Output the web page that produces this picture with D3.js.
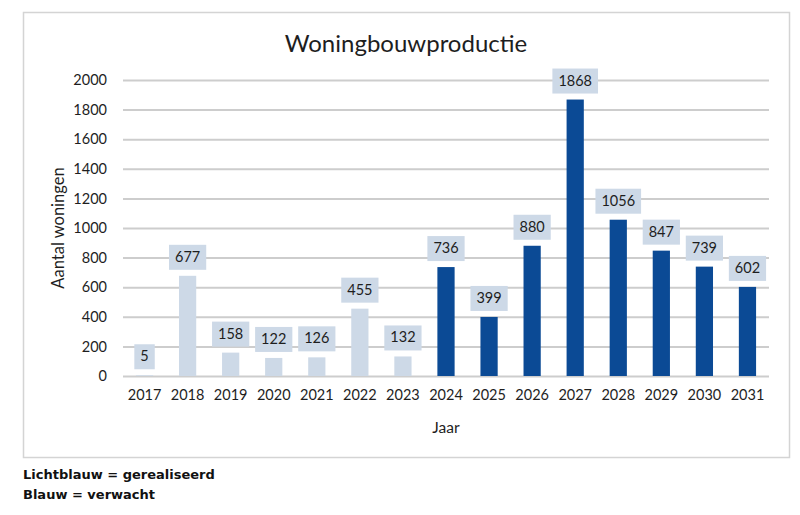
<!DOCTYPE html>
<html><head><meta charset="utf-8">
<script src="https://cdn.jsdelivr.net/npm/d3@7"></script>
<style>body{margin:0;background:#fff}</style>
</head><body>
<svg id="c" width="800" height="515"></svg>
<script>
const years = ["2017","2018","2019","2020","2021","2022","2023","2024","2025","2026","2027","2028","2029","2030","2031"];
const values = [5,677,158,122,126,455,132,736,399,880,1868,1056,847,739,602];
const realised = [true,true,true,true,true,true,true,false,false,false,false,false,false,false,false];
const yTicks = [0,200,400,600,800,1000,1200,1400,1600,1800,2000];
const legendLines = ["Lichtblauw = gerealiseerd","Blauw = verwacht"];

const light = "#cdd9e7", dark = "#0b4a95", txt = "#1e1e1e";
const font = "Lato, 'Open Sans', sans-serif";
const svg = d3.select("#c");
svg.append("rect").attr("x",23.5).attr("y",12.5).attr("width",766).attr("height",445)
  .attr("fill","#fff").attr("stroke","#d4d4d4").attr("stroke-width",1.5);

const x = d3.scaleBand().domain(years).range([123,769]).paddingInner(0.6).paddingOuter(0.3);
const y = d3.scaleLinear().domain([0,2000]).range([376,80]);

svg.append("text").attr("x",406).attr("y",52).attr("text-anchor","middle")
  .attr("font-family",font).attr("font-size",24).attr("fill",txt).text("Woningbouwproductie");

const ya = svg.append("g").attr("transform","translate(123,0)")
  .call(d3.axisLeft(y).tickValues(yTicks).tickFormat(d3.format("d")).tickSize(-646).tickPadding(16));
ya.select(".domain").remove();
ya.selectAll("line").attr("stroke","#cdcdcd").attr("stroke-width",2);
ya.selectAll("text").attr("font-family",font).attr("font-size",14.5).attr("fill",txt);

const xa = svg.append("g").attr("transform","translate(0,376)")
  .call(d3.axisBottom(x).tickSize(0).tickPadding(14));
xa.select(".domain").remove();
xa.selectAll("text").attr("font-family",font).attr("font-size",14.5).attr("fill",txt);

svg.append("g").selectAll("rect").data(years).join("rect")
  .attr("x",d=>x(d)).attr("width",x.bandwidth())
  .attr("y",(d,i)=>y(values[i])).attr("height",(d,i)=>y(0)-y(values[i]))
  .attr("fill",(d,i)=>realised[i]?light:dark);

const lab = svg.append("g").selectAll("g").data(years).join("g");
lab.each(function(d,i){
  const g = d3.select(this);
  const cx = x(d)+x.bandwidth()/2, bottom = y(values[i]) - 6;
  const t = g.append("text").attr("x",cx).attr("y",bottom-8).attr("text-anchor","middle")
    .attr("font-family",font).attr("font-size",14.5).attr("fill",txt).text(values[i]);
  const w = t.node().getComputedTextLength()+12;
  g.insert("rect","text").attr("x",cx-w/2).attr("y",bottom-25).attr("width",w).attr("height",25).attr("fill",light);
});

svg.append("text").attr("transform","translate(64,228) rotate(-90)").attr("text-anchor","middle")
  .attr("font-family",font).attr("font-size",16.5).attr("fill",txt).text("Aantal woningen");
svg.append("text").attr("x",446).attr("y",433).attr("text-anchor","middle")
  .attr("font-family",font).attr("font-size",15.5).attr("fill",txt).text("Jaar");

svg.append("g").selectAll("text").data(legendLines).join("text")
  .attr("x",23).attr("y",(d,i)=>479+i*20).attr("font-family","'DejaVu Sans', Verdana, sans-serif")
  .attr("font-size",13).attr("font-weight","bold").attr("fill","#111").text(d=>d);
</script>
</body></html>
